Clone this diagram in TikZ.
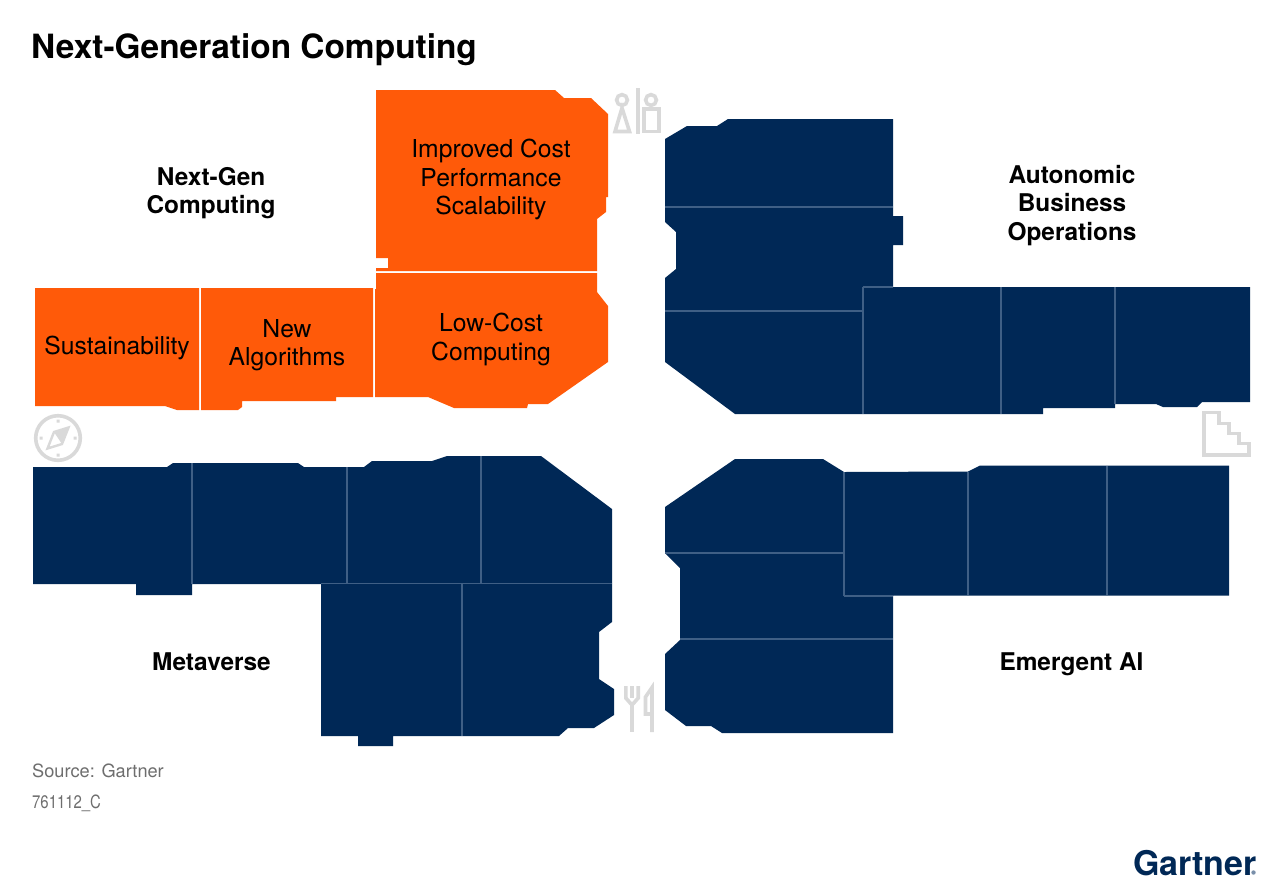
\documentclass[tikz,border=0pt]{standalone}
\usepackage{fontspec}
\setmainfont{TeX Gyre Heros}
\definecolor{orng}{HTML}{FF5A09}
\definecolor{navy}{HTML}{002856}
\definecolor{dvd}{HTML}{3F5F85}
\definecolor{icn}{HTML}{D9D9D9}
\definecolor{gry}{HTML}{6E6E6E}
\tikzset{
 room/.style={fill=orng,draw=none},
 block/.style={fill=navy,draw=none},
 divider/.style={draw=dvd,line width=1.8pt},
 icon/.style={draw=icn,line width=3.6pt,fill=none,line join=miter},
 lab/.style={align=center,inner sep=0pt,font=\fontsize{24.7}{28.4}\selectfont,text=black},
 head/.style={align=center,inner sep=0pt,font=\fontsize{24.4}{28.4}\selectfont\bfseries,text=black},
 foot/.style={anchor=base west,inner sep=0pt,font=\fontsize{18.2}{20}\selectfont,text=gry},
}
\begin{document}
\begin{tikzpicture}[x=1pt,y=-1pt]
\useasboundingbox (0,0) rectangle (1280,887);
\fill[white] (0,0) rectangle (1280,887);
% orange rooms
\fill[room] (376,90)--(555,90)--(564,98)--(591,98)--(608,114)--(608,197)--(606,197)--(606,212)--(597,219)--(597,271)--(376,271)--(376,268)--(388,268)--(388,258)--(376,258)--cycle;
\fill[room] (376,273)--(597,273)--(597,292)--(608,306)--(608,362)--(548,404)--(528,404)--(527,408)--(454,408)--(428,397)--(375,397)--(375,289)--(376,289)--cycle;
\fill[room] (35,288)--(199,288)--(199,410)--(177,410)--(165,406)--(35,406)--cycle;
\fill[room] (201,288)--(373,288)--(373,397)--(336,397)--(336,401)--(242,401)--(242,407)--(238,410)--(201,410)--cycle;
% metaverse
\fill[block] (33,467)--(167,467)--(173,463)--(298,463)--(304,467)--(364,467)--(372,461)--(432,461)--(447,456)--(541,456)--(612,509)--(612,622)--(599,632)--(599,679)--(614,689)--(614,715)--(594,728)--(568,728)--(559,736)--(393,736)--(393,746)--(358,746)--(358,736)--(321,736)--(321,584)--(192,584)--(192,595)--(136,595)--(136,584)--(33,584)--cycle;
\draw[divider] (192.3,463)--(192.3,584);
\draw[divider] (346.7,467)--(346.7,584);
\draw[divider] (481,456)--(481,584);
\draw[divider] (321,583.5)--(612,583.5);
\draw[divider] (461.7,584)--(461.7,736);
% autonomic
\fill[block] (665,139)--(687,126)--(717,126)--(728,119)--(893,119)--(893,216)--(903,216)--(903,245)--(893,245)--(893,287)--(1250,287)--(1250,402)--(1202,402)--(1197,407)--(1163,407)--(1156,404)--(1115,404)--(1115,408)--(1043,408)--(1043,414)--(735,414)--(665,362)--(665,278)--(676,269)--(676,232)--(665,222)--cycle;
\draw[divider] (665,207)--(893,207);
\draw[divider] (665,311)--(863,311);
\draw[divider] (862.7,287)--(862.7,414);
\draw[divider] (862.7,287.3)--(893,287.3);
\draw[divider] (1000.7,287)--(1000.7,414);
\draw[divider] (1114.7,287)--(1114.7,404);
% emergent
\fill[block] (665,507)--(735,459)--(823,459)--(844,472)--(968,471.5)--(980,465.5)--(1229,465.5)--(1229,595.5)--(893,595.5)--(893,733)--(722,733)--(711,726)--(686,726)--(665,710)--(665,654)--(680,640)--(680,568)--(665,553)--cycle;
\draw[divider] (665,553)--(844,553);
\draw[divider] (844,472)--(844,596);
\draw[divider] (844,596)--(893,596);
\draw[divider] (680,639)--(893,639);
\draw[divider] (967.7,472)--(967.7,595);
\draw[divider] (1107.3,466)--(1107.3,595);
% compass
\draw[icon] (58,438) circle (22.3);
\fill[icn] (56.5,419.5) rectangle +(3,3) (56.5,453.5) rectangle +(3,3) (39.5,436.5) rectangle +(3,3) (73.5,436.5) rectangle +(3,3);
\draw[icn,line width=2.4pt,fill=none,line join=miter] (68.5,427.5)--(62,444)--(47.5,448.5)--(54,432)--cycle;
\fill[icn] (68.5,427.5)--(62,444)--(54,432)--cycle;
% toilets
\draw[icon] (622,100) circle (5.4);
\draw[icon] (622,108)--(615,131.5)--(629.5,131.5)--(622,108)--cycle;
\draw[icn,line width=3.6pt] (637.7,88)--(637.7,134);
\draw[icon] (651,100) circle (5.4);
\draw[icon] (644,109)--(659,109)--(659,131.5)--(644,131.5)--cycle;
% cutlery
\draw[icon] (625.8,686)--(625.8,698)--(632,705)--(638.2,698)--(638.2,686);
\draw[icon] (632,686)--(632,698);
\draw[icon] (632,703)--(632,732);
\draw[icon] (652,732)--(652,687.5)--(645.5,697)--(645.5,714)--(652,714);
% stairs
\draw[icon] (1204,412.5)--(1219,412.5)--(1219,423.5)--(1229,423.5)--(1229,433.5)--(1239,433.5)--(1239,443.5)--(1249,443.5)--(1249,455)--(1204,455)--cycle;
% text
\node[anchor=base west,inner sep=0pt,font=\fontsize{33.4}{36}\selectfont\bfseries] (title) at (31,58) {Next-Generation Computing};
\node[lab] (improved) at (491,179.5) {Improved Cost\\Performance\\Scalability};
\node[lab] (lowcost) at (491,339.5) {Low-Cost\\Computing};
\node[lab,anchor=base] (sust) at (117,354) {Sustainability};
\node[lab] (newalg) at (287,345) {New\\Algorithms};
\node[head] (nextgen) at (211,193) {Next-Gen\\Computing};
\node[head] (auton) at (1072,205.5) {Autonomic\\Business\\Operations};
\node[head,anchor=base] (meta) at (211.5,670) {Metaverse};
\node[head,anchor=base] (emerg) at (1071.5,670) {Emergent AI};
\node[foot] (src) at (32,777) {Source: Gartner};
\node[foot,xscale=0.82,transform shape] (code) at (32,808) {761112\_C};
\node[anchor=base west,inner sep=0pt,font=\fontsize{34}{36}\selectfont\bfseries,text=navy] (logo) at (1133,875) {Gartner};
\fill[dvd!70] (1253.5,872.5) circle (2.2);
\end{tikzpicture}
\end{document}
